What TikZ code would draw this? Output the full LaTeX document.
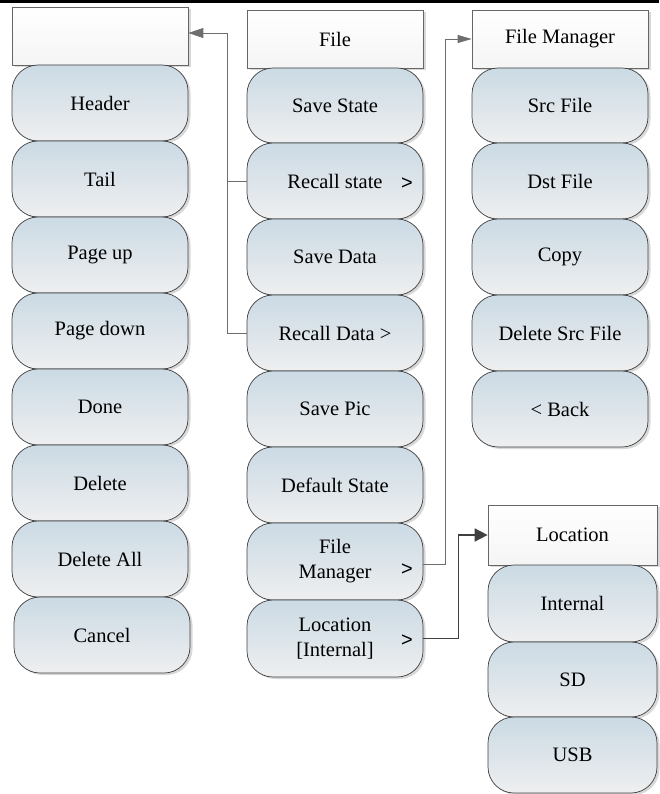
\documentclass[tikz,border=0pt]{standalone}
\usepackage{fontspec}
\setmainfont{LiberationSerif-Regular.ttf}
\newfontfamily\arrowfont{Liberation Sans}
\usetikzlibrary{arrows.meta,shadows}

\definecolor{btntop}{HTML}{CBDAE4}
\definecolor{btnbot}{HTML}{EEEFF0}
\definecolor{edge}{HTML}{404040}
\definecolor{wire}{HTML}{6E6E6E}

\tikzset{
  menubtn/.style={draw=edge, line width=.7pt, rounded corners=26pt,
    top color=btntop, bottom color=btnbot,
    drop shadow={shadow xshift=2.5pt, shadow yshift=-2pt, fill=black!30, opacity=.5},
    minimum width=176pt, minimum height=76pt, align=center, inner sep=0pt},
  menuhead/.style={draw=black!60, line width=.7pt,
    top color=white, bottom color=black!4,
    drop shadow={shadow xshift=2.5pt, shadow yshift=-2pt, fill=black!30, opacity=.5},
    minimum width=176pt, minimum height=58pt, inner sep=0pt},
  gt/.style={font=\arrowfont\fontsize{20}{24}\selectfont},
  link/.style={draw=wire, line width=.8pt},
}

\begin{document}
\begin{tikzpicture}[x=1pt, y=-1pt, font=\rmfamily\fontsize{20.5}{25}\selectfont]
  \useasboundingbox (0,0) rectangle (659,794);
  \draw[line width=3pt] (0,1.5) -- (659,1.5);

  % left column
  \node[menuhead] (blank) at (100,36) {};
  \node[menubtn] (hdr) at (100,103) {Header};
  \node[menubtn] (tail) at (100,179) {Tail};
  \node[menubtn] (pgup) at (100,255) {Page up};
  \node[menubtn] (pgdn) at (100,331) {Page down};
  \node[menubtn] (done) at (100,407) {Done};
  \node[menubtn] (del) at (100,483) {Delete};
  \node[menubtn] (delall) at (100,559) {Delete All};
  \node[menubtn] (cancel) at (102,635) {Cancel};

  % file menu
  \node[menuhead] (file) at (335,39) {File};
  \node[menubtn, minimum height=75pt] (svst) at (335,105.5) {Save State};
  \node[menubtn] (rcst) at (335,181) {Recall state};
  \node[menubtn] (svdt) at (335,257) {Save Data};
  \node[menubtn] (rcdt) at (335,333) {Recall Data >};
  \node[menubtn] (svpic) at (335,409) {Save Pic};
  \node[menubtn] (dflt) at (335,485) {Default State};
  \node[menubtn, minimum height=77pt] (fmbtn) at (335,561.5) {File\\Manager};
  \node[menubtn, minimum height=77pt] (locbtn) at (335,638.5) {Location\\{[}Internal{]}};
  \node[gt] (gta) at (407,184) {>};
  \node[gt] (gtb) at (407,570) {>};
  \node[gt] (gtc) at (407,641) {>};

  % file manager menu
  \node[menuhead] (fmhead) at (560,39) {File Manager};
  \node[menubtn, minimum height=75pt] (src) at (560,105.5) {Src File};
  \node[menubtn] (dst) at (560,181) {Dst File};
  \node[menubtn] (copy) at (560,257) {Copy};
  \node[menubtn] (delsrc) at (560,333) {Delete Src File};
  \node[menubtn] (back) at (560,409) {< Back};

  % location menu
  \node[menuhead, minimum width=169pt, minimum height=60pt] (lochead) at (572.5,535) {Location};
  \node[menubtn, minimum width=169pt, minimum height=77pt] (intl) at (572.5,603.5) {Internal};
  \node[menubtn, minimum width=169pt, minimum height=75pt] (sd) at (572.5,679.5) {SD};
  \node[menubtn, minimum width=169pt, minimum height=76pt] (usb) at (572.5,755) {USB};

  % connectors
  \draw[link, -{Triangle[length=15pt,width=10pt]}] (rcst.west) -- ++(-19,0) coordinate (j) |- ([yshift=3pt]blank.east);
  \draw[link] (rcdt.west) -| (j);
  \draw[link, -{Triangle[length=14pt,width=8pt]}] ([yshift=-3pt]fmbtn.east) -- ++(22,0) |- (fmhead.west);
  \draw[draw=edge, line width=1.6pt, -{Triangle[length=13pt,width=13pt]}] (locbtn.east) -- ++(35,0) |- (lochead.west);
\end{tikzpicture}
\end{document}
